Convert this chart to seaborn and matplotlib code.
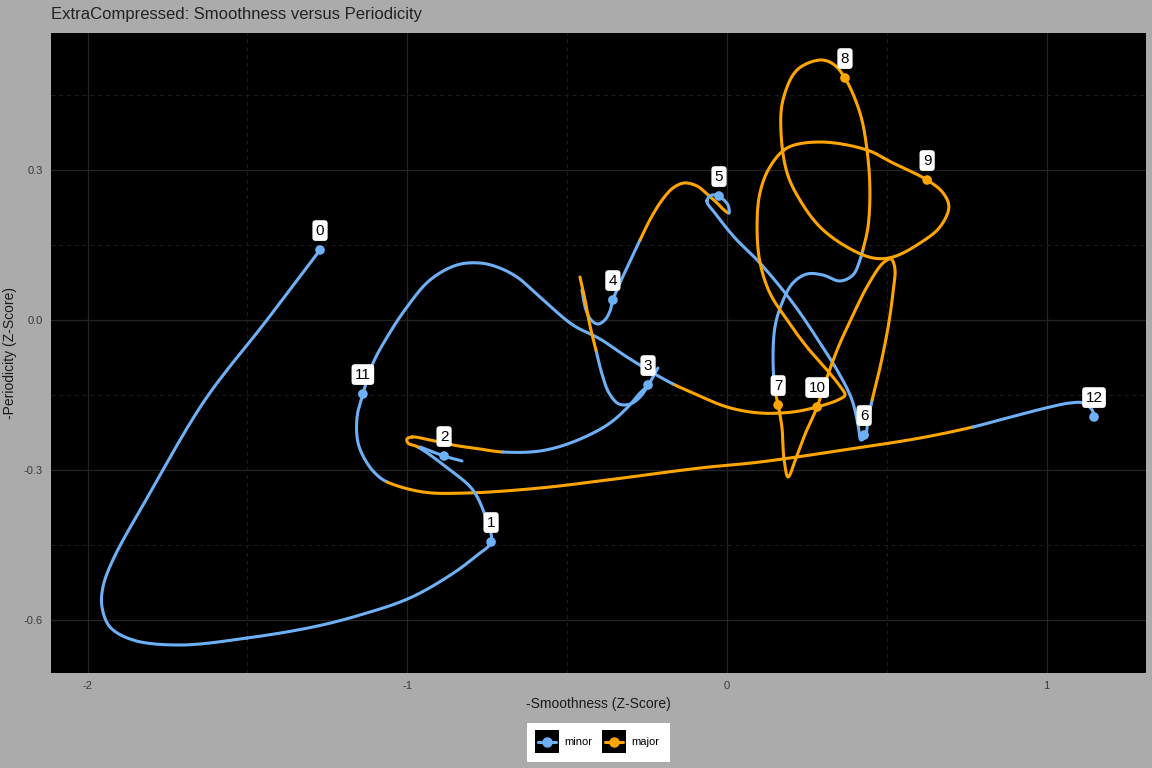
"""ExtraCompressed: smoothness vs periodicity trajectory, black-panel style."""

import matplotlib
matplotlib.use("Agg")
import matplotlib.pyplot as plt
from matplotlib.lines import Line2D
from matplotlib.patches import Rectangle
import numpy as np
import pandas as pd
import seaborn as sns

# labelled points
point_label = [0, 1, 2, 3, 4, 5, 6, 7, 8, 9, 10, 11, 12]
point_x = [-1.273, -0.738, -0.885, -0.247, -0.357, -0.025, 0.429, 0.160, 0.369, 0.626, 0.282, -1.139, 1.148]
point_y = [0.140, -0.444, -0.272, -0.130, 0.040, 0.248, -0.230, -0.170, 0.484, 0.280, -0.174, -0.148, -0.194]
point_mode = ["minor"] * 7 + ["major"] * 4 + ["minor"] * 2

# trajectory (0 = minor, 1 = major)
a_x = [-1.273, -1.439, -1.633, -1.805, -1.921, -1.952, -1.955, -1.930, -1.858,
       -1.711, -1.501, -1.295, -1.148, -0.992, -0.860, -0.785, -0.738, -0.754, -0.795,
       -0.866, -0.967, -0.998, -1.001, -0.985, -0.929, -0.857, -0.773, -0.701, -0.585,
       -0.482, -0.375, -0.313, -0.272, -0.247, -0.216]
a_y = [0.140, 0.000, -0.160, -0.346, -0.480, -0.534, -0.574, -0.614, -0.640,
       -0.650, -0.636, -0.614, -0.590, -0.556, -0.508, -0.472, -0.444, -0.396, -0.340,
       -0.300, -0.254, -0.246, -0.238, -0.234, -0.240, -0.250, -0.258, -0.264, -0.262,
       -0.244, -0.210, -0.176, -0.146, -0.130, -0.096]
a_mode_runs = [(0, 20), (1, 7), (0, 8)]

b_x = [-0.960, -0.885, -0.829]
b_y = [-0.254, -0.272, -0.282]
b_mode_runs = [(0, 3)]

c_x = [-0.247, -0.272, -0.303, -0.338, -0.369, -0.391, -0.410, -0.429, -0.444, -0.460]
c_y = [-0.132, -0.154, -0.168, -0.168, -0.146, -0.108, -0.060, -0.010, 0.040, 0.086]
c_mode_runs = [(0, 6), (1, 4)]

d_x = [-0.454, -0.441, -0.425, -0.404, -0.382, -0.366, -0.357, -0.332, -0.303, -0.272,
       -0.238, -0.203, -0.169, -0.134, -0.094, -0.059, -0.031, -0.009, 0.006, 0.003,
       -0.022, -0.047, -0.063, -0.038, 0.025, 0.103, 0.206, 0.291, 0.353, 0.391,
       0.410, 0.419, 0.432, 0.441, 0.454, 0.479, 0.504, 0.519, 0.525, 0.513,
       0.488, 0.441, 0.394, 0.347, 0.310, 0.282, 0.247, 0.216, 0.191, 0.178,
       0.172, 0.160, 0.150, 0.144, 0.150, 0.172, 0.206, 0.250, 0.300, 0.353,
       0.394, 0.416, 0.425, 0.441, 0.447, 0.438, 0.416, 0.369, 0.332, 0.291,
       0.219, 0.175, 0.169, 0.188, 0.228, 0.291, 0.375, 0.457, 0.519, 0.604,
       0.666, 0.694, 0.676, 0.626, 0.519, 0.438, 0.291, 0.188, 0.134, 0.103,
       0.094, 0.103, 0.134, 0.188, 0.250, 0.313, 0.353, 0.369, 0.347, 0.313,
       0.282, 0.206, 0.103, 0.000, -0.106, -0.169, -0.231, -0.313, -0.397, -0.482,
       -0.585, -0.657, -0.719, -0.773, -0.845, -0.929, -1.001, -1.063, -1.107, -1.139,
       -1.157, -1.154, -1.126, -1.095, -1.063, -0.951, -0.813, -0.585, -0.375, -0.084,
       0.103, 0.385, 0.604, 0.769, 0.876, 1.010, 1.073, 1.114, 1.142, 1.148]
d_y = [0.060, 0.020, 0.000, -0.008, 0.000, 0.018, 0.040, 0.078, 0.118, 0.160,
       0.204, 0.240, 0.264, 0.274, 0.268, 0.250, 0.234, 0.220, 0.214, 0.230,
       0.246, 0.250, 0.238, 0.214, 0.164, 0.114, 0.034, -0.046, -0.110, -0.160,
       -0.210, -0.240, -0.234, -0.200, -0.160, -0.094, -0.014, 0.054, 0.104, 0.122,
       0.114, 0.070, 0.010, -0.056, -0.120, -0.174, -0.224, -0.276, -0.314, -0.276,
       -0.216, -0.170, -0.140, -0.080, -0.014, 0.034, 0.074, 0.092, 0.090, 0.078,
       0.090, 0.120, 0.140, 0.186, 0.260, 0.340, 0.414, 0.484, 0.512, 0.520,
       0.500, 0.440, 0.374, 0.294, 0.240, 0.186, 0.146, 0.124, 0.126, 0.154,
       0.186, 0.226, 0.254, 0.280, 0.314, 0.340, 0.356, 0.344, 0.306, 0.254,
       0.186, 0.116, 0.054, 0.000, -0.054, -0.100, -0.132, -0.150, -0.160, -0.168,
       -0.174, -0.184, -0.186, -0.174, -0.146, -0.128, -0.106, -0.074, -0.038, -0.010,
       0.046, 0.086, 0.106, 0.114, 0.110, 0.080, 0.026, -0.034, -0.086, -0.148,
       -0.194, -0.246, -0.286, -0.310, -0.324, -0.344, -0.346, -0.336, -0.320, -0.296,
       -0.284, -0.258, -0.236, -0.214, -0.196, -0.174, -0.166, -0.166, -0.180, -0.194]
d_mode_runs = [(0, 9), (1, 9), (0, 16), (1, 18), (0, 10), (1, 43), (0, 19), (1, 9), (0, 7)]

mode_names = ["minor", "major"]
palette = {"minor": "#6EB0F5", "major": "#FFA500"}

BG = "#ABABAB"
W, H = 1152, 768
# pixel-per-unit aspect, only used to parametrise the spline
XS, YS = 320.0, 500.0


def expand_runs(runs):
    out = []
    for m, n in runs:
        out += [m] * n
    return out


def catmull_rom(xs, ys, n=14):
    """Centripetal Catmull-Rom through the waypoints; returns one array per segment."""
    P = np.column_stack([np.asarray(xs) * XS, np.asarray(ys) * YS])
    ext = np.vstack([2 * P[0] - P[1], P, 2 * P[-1] - P[-2]])
    segs = []
    for i in range(len(P) - 1):
        p0, p1, p2, p3 = ext[i], ext[i + 1], ext[i + 2], ext[i + 3]
        t0 = 0.0
        t1 = t0 + max(np.linalg.norm(p1 - p0), 1e-6) ** 0.5
        t2 = t1 + max(np.linalg.norm(p2 - p1), 1e-6) ** 0.5
        t3 = t2 + max(np.linalg.norm(p3 - p2), 1e-6) ** 0.5
        t = np.linspace(t1, t2, n)[:, None]
        A1 = (t1 - t) / (t1 - t0) * p0 + (t - t0) / (t1 - t0) * p1
        A2 = (t2 - t) / (t2 - t1) * p1 + (t - t1) / (t2 - t1) * p2
        A3 = (t3 - t) / (t3 - t2) * p2 + (t - t2) / (t3 - t2) * p3
        B1 = (t2 - t) / (t2 - t0) * A1 + (t - t0) / (t2 - t0) * A2
        B2 = (t3 - t) / (t3 - t1) * A2 + (t - t1) / (t3 - t1) * A3
        C = (t2 - t) / (t2 - t1) * B1 + (t - t1) / (t2 - t1) * B2
        segs.append(C / [XS, YS])
    return segs


def draw_stroke(ax, xs, ys, runs):
    modes = expand_runs(runs)
    segs = catmull_rom(xs, ys)
    i = 0
    while i < len(segs):
        j = i
        while j + 1 < len(segs) and modes[j + 1] == modes[i]:
            j += 1
        pts = np.vstack(segs[i:j + 1])
        ax.plot(pts[:, 0], pts[:, 1], color=palette[mode_names[modes[i]]],
                lw=2.2, solid_capstyle="round", solid_joinstyle="round", zorder=2)
        i = j + 1


sns.set_theme(style="dark")
plt.rcParams["font.family"] = ["Liberation Sans", "DejaVu Sans"]
plt.rcParams["axes.unicode_minus"] = False

fig = plt.figure(figsize=(W / 100, H / 100), dpi=100, facecolor=BG)
ax = fig.add_axes([51 / W, 1 - 673 / H, (1146 - 51) / W, (673 - 33) / H])
ax.set_facecolor("black")
for s in ax.spines.values():
    s.set_visible(False)

ax.set_xlim(-2.1145, 1.3106)
ax.set_ylim(-0.706, 0.574)
ax.set_xticks([-2, -1, 0, 1])
ax.set_xticklabels(["-2", "-1", "0", "1"])
ax.set_xticks([-1.5, -0.5, 0.5], minor=True)
ax.set_yticks([-0.6, -0.3, 0.0, 0.3])
ax.set_yticklabels(["-0.6", "-0.3", "0.0", "0.3"])
ax.set_yticks([-0.45, -0.15, 0.15, 0.45], minor=True)
ax.grid(which="major", color="#232323", lw=0.9, ls="-")
ax.grid(which="minor", color="#1d1d1d", lw=0.7, ls=(0, (4, 4)))
ax.set_axisbelow(True)
ax.tick_params(which="both", length=0, labelsize=8, labelcolor="#3a3a3a", pad=6)

draw_stroke(ax, d_x, d_y, d_mode_runs)
draw_stroke(ax, c_x, c_y, c_mode_runs)
draw_stroke(ax, a_x, a_y, a_mode_runs)
draw_stroke(ax, b_x, b_y, b_mode_runs)

points = pd.DataFrame({"x": point_x, "y": point_y, "mode": point_mode, "label": point_label})
sns.scatterplot(data=points, x="x", y="y", hue="mode", palette=palette, s=48,
                linewidth=0, legend=False, zorder=3, ax=ax)

for _, r in points.iterrows():
    ax.annotate(str(r["label"]), (r["x"], r["y"]), xytext=(0, 14), textcoords="offset points",
                ha="center", va="center", fontsize=11, color="black", zorder=4,
                bbox=dict(boxstyle="round,pad=0.22,rounding_size=0.22", fc="white", ec="none"))

ax.set_xlabel("-Smoothness (Z-Score)", fontsize=10, color="#1a1a1a", labelpad=4)
ax.set_ylabel("-Periodicity (Z-Score)", fontsize=10, color="#1a1a1a", labelpad=5)
fig.text(51 / W, 1 - 14 / H, "ExtraCompressed: Smoothness versus Periodicity",
         ha="left", va="center", fontsize=12, color="#222222")

# legend drawn by hand: white box with black key squares
fig.add_artist(Rectangle((527 / W, 1 - 762 / H), 143 / W, 39 / H, transform=fig.transFigure,
                         fc="white", ec="none"))
for kx, name, tx in [(535, "minor", 564), (602, "major", 631)]:
    fig.add_artist(Rectangle((kx / W, 1 - 753 / H), 24 / W, 23 / H, transform=fig.transFigure,
                             fc="black", ec="none"))
    fig.add_artist(Line2D([(kx + 3) / W, (kx + 21) / W], [1 - 741.5 / H] * 2,
                          transform=fig.transFigure, color=palette[name], lw=2.2))
    fig.add_artist(Line2D([(kx + 12) / W], [1 - 741.5 / H], transform=fig.transFigure,
                          marker="o", ms=6.5, color=palette[name], lw=0))
    fig.text(tx / W, 1 - 742 / H, name, ha="left", va="center", fontsize=8, color="black")

fig.savefig("out.png", dpi=100, facecolor=BG)
